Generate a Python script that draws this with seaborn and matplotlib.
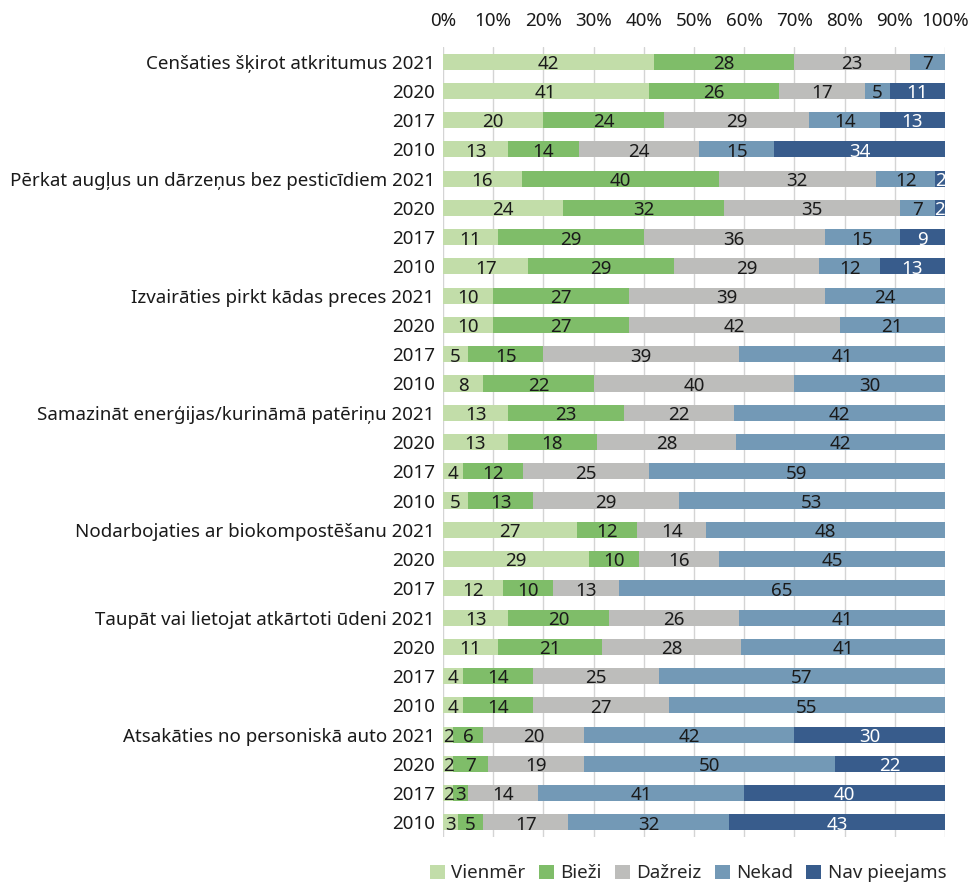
import numpy as np
import pandas as pd
import matplotlib
matplotlib.use("Agg")
import matplotlib.pyplot as plt
from matplotlib.patches import Patch
import seaborn as sns

groups = ["Cenšaties šķirot atkritumus", "Pērkat augļus un dārzeņus bez pesticīdiem",
          "Izvairāties pirkt kādas preces", "Samazināt enerģijas/kurināmā patēriņu",
          "Nodarbojaties ar biokompostēšanu", "Taupāt vai lietojat atkārtoti ūdeni",
          "Atsakāties no personiskā auto"]
group_years = [["2021", "2020", "2017", "2010"],
               ["2021", "2020", "2017", "2010"],
               ["2021", "2020", "2017", "2010"],
               ["2021", "2020", "2017", "2010"],
               ["2021", "2020", "2017"],
               ["2021", "2020", "2017", "2010"],
               ["2021", "2020", "2017", "2010"]]

categories = ["Vienmēr", "Bieži", "Dažreiz", "Nekad", "Nav pieejams"]
colors = ["#C2DDA9", "#7FBD69", "#BDBDBB", "#7399B6", "#385C8C"]
text_colors = ["#1a1a1a", "#1a1a1a", "#1a1a1a", "#1a1a1a", "#ffffff"]

nan = np.nan
vienmer = [42, 41, 20, 13, 16, 24, 11, 17, 10, 10, 5, 8, 13, 13, 4, 5, 27, 29, 12, 13, 11, 4, 4, 2, 2, 2, 3]
biezi = [28, 26, 24, 14, 40, 32, 29, 29, 27, 27, 15, 22, 23, 18, 12, 13, 12, 10, 10, 20, 21, 14, 14, 6, 7, 3, 5]
dazreiz = [23, 17, 29, 24, 32, 35, 36, 29, 39, 42, 39, 40, 22, 28, 25, 29, 14, 16, 13, 26, 28, 25, 27, 20, 19, 14, 17]
nekad = [7, 5, 14, 15, 12, 7, 15, 12, 24, 21, 41, 30, 42, 42, 59, 53, 48, 45, 65, 41, 41, 57, 55, 42, 50, 41, 32]
nav_pieejams = [nan, 11, 13, 34, 2, 2, 9, 13, nan, nan, nan, nan, nan, nan, nan, nan, nan, nan, nan,
                nan, nan, nan, nan, 30, 22, 40, 43]
series = [vienmer, biezi, dazreiz, nekad, nav_pieejams]

# row ids and labels
row_ids, row_labels = [], []
for g, yrs in zip(groups, group_years):
    for k, y in enumerate(yrs):
        row_ids.append(f"{g}|{y}")
        row_labels.append(f"{g} {y}" if k == 0 else y)

recs = []
for c, vals in zip(categories, series):
    for rid, v in zip(row_ids, vals):
        recs.append({"row": rid, "cat": c, "value": v})
df = pd.DataFrame(recs)
df["cat"] = pd.Categorical(df["cat"], categories=categories, ordered=True)
df = df.sort_values(["row", "cat"])
tot = df.groupby("row")["value"].transform(lambda s: s.sum(skipna=True))
df["share"] = df["value"] / tot * 100
df["cum"] = df.groupby("row")["share"].cumsum()
df["mid"] = df["cum"] - df["share"] / 2
df = df.dropna(subset=["value"])

sns.set_theme(style="white")
plt.rcParams["font.family"] = ["Noto Sans", "DejaVu Sans"]

FS = 13.5
fig = plt.figure(figsize=(9.78, 8.84), dpi=100)
ax = fig.add_axes([443 / 978, 47 / 884, (945 - 443) / 978, 790 / 884])

for c, col in list(zip(categories, colors))[::-1]:
    sub = df[df["cat"] == c]
    sns.barplot(data=sub, x="cum", y="row", order=row_ids, color=col, width=0.55,
                errorbar=None, orient="h", ax=ax, saturation=1, linewidth=0, zorder=3)

pos = {rid: i for i, rid in enumerate(row_ids)}
for c, tc in zip(categories, text_colors):
    sub = df[df["cat"] == c]
    for _, r in sub.iterrows():
        ax.text(r["mid"], pos[r["row"]] + 0.08, f"{int(r['value'])}", ha="center", va="center",
                fontsize=FS, color=tc, zorder=5)

ax.set_xlim(0, 100)
ax.set_ylim(len(row_ids) - 0.5, -0.5)
ax.set_xticks(np.arange(0, 101, 10))
ax.set_xticklabels([f"{t}%" for t in range(0, 101, 10)], fontsize=FS, color="#1a1a1a")
ax.xaxis.tick_top()
ax.set_yticks(range(len(row_ids)))
ax.set_yticklabels(row_labels, fontsize=FS, color="#1a1a1a")
ax.tick_params(axis="both", length=0, pad=6)
ax.tick_params(axis="x", pad=12)
ax.set_xlabel("")
ax.set_ylabel("")
ax.grid(axis="x", color="#D4D4D4", linewidth=1, zorder=0)
ax.set_axisbelow(True)
for s in ax.spines.values():
    s.set_visible(False)

handles = [Patch(facecolor=col, edgecolor="none", label=c) for c, col in zip(categories, colors)]
ax.legend(handles=handles, loc="center", bbox_to_anchor=(0.488, -0.046), ncol=5, frameon=False,
          fontsize=FS, handlelength=0.8, handleheight=0.8, handletextpad=0.35, columnspacing=0.7,
          borderaxespad=0)

fig.savefig("out.png", dpi=100)
